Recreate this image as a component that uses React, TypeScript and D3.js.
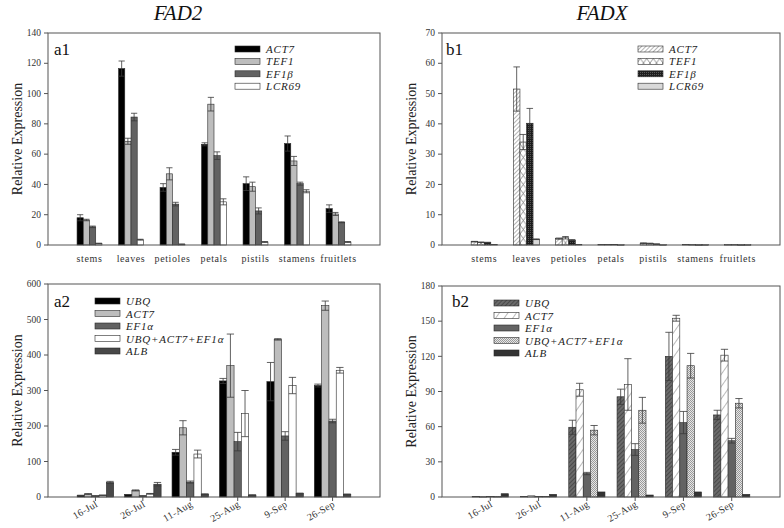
import React from "react";
import * as d3 from "d3";

// ---------- Data ----------
const tissues = ["stems", "leaves", "petioles", "petals", "pistils", "stamens", "fruitlets"];
const dates = ["16-Jul", "26-Jul", "11-Aug", "25-Aug", "9-Sep", "26-Sep"];

const a1Series = ["ACT7", "TEF1", "EF1β", "LCR69"];
const a1Values = [
  [18, 116.5, 38, 66.5, 40.5, 67, 24],
  [16.5, 68.5, 47, 93, 38.5, 55.5, 20.5],
  [12, 84.5, 27, 59, 22.5, 40.5, 15],
  [1, 3.5, 0.5, 28.5, 2, 35.5, 2],
];
const a1Errors = [
  [2, 5, 2.5, 1, 4.5, 5, 2.5],
  [0.5, 2, 4, 4.5, 3, 3, 1],
  [0.5, 2.5, 1.2, 2.5, 2, 1, 0.3],
  [0.2, 0.3, 0.2, 2, 0.3, 1, 0.3],
];

const b1Series = ["ACT7", "TEF1", "EF1β", "LCR69"];
const b1Values = [
  [1.1, 51.5, 2.1, 0.2, 0.6, 0.2, 0.15],
  [0.9, 34, 2.4, 0.2, 0.5, 0.15, 0.15],
  [0.8, 40.2, 1.6, 0.2, 0.3, 0.1, 0.1],
  [0.2, 1.9, 0.2, 0.1, 0.1, 0.1, 0.1],
];
const b1Errors = [
  [0.1, 7.3, 0.2, 0, 0.1, 0, 0],
  [0.1, 2.5, 0.4, 0, 0.1, 0, 0],
  [0.1, 4.9, 0.2, 0, 0.05, 0, 0],
  [0, 0.1, 0, 0, 0, 0, 0],
];

const a2Series = ["UBQ", "ACT7", "EF1α", "UBQ+ACT7+EF1α", "ALB"];
const a2Values = [
  [4.5, 6.5, 126, 327, 325, 314],
  [8.5, 18.5, 195, 370, 444, 539],
  [3, 3, 42, 156, 172, 214],
  [5, 9, 121, 235, 314, 357],
  [41, 36, 8, 5.5, 10, 7.5],
];
const a2Errors = [
  [0.5, 0.5, 8, 7, 54, 4],
  [1, 1.5, 20, 89, 2, 13],
  [0.5, 0.5, 3, 26, 12, 5],
  [0.5, 1, 11, 65, 23, 8],
  [3, 5, 1, 0.5, 1, 1],
];

const b2Series = ["UBQ", "ACT7", "EF1α", "UBQ+ACT7+EF1α", "ALB"];
const b2Values = [
  [0.5, 0.5, 59.5, 85.5, 120, 70],
  [0.3, 1, 91.5, 96, 152.5, 121],
  [0.5, 0.5, 20, 40.5, 63.5, 48],
  [0.4, 0.5, 57, 74, 112, 80],
  [2.8, 2.3, 4.3, 1.7, 4.3, 2.3],
];
const b2Errors = [
  [0, 0, 6, 6.5, 20.5, 4],
  [0, 0, 5.5, 22, 2.5, 5],
  [0, 0, 1, 5, 9.5, 2],
  [0, 0, 4, 11, 10.5, 4],
  [0, 0, 0, 0, 0, 0],
];

const a1Ticks = [0, 20, 40, 60, 80, 100, 120, 140];
const b1Ticks = [0, 10, 20, 30, 40, 50, 60, 70];
const a2Ticks = [0, 100, 200, 300, 400, 500, 600];
const b2Ticks = [0, 30, 60, 90, 120, 150, 180];

// ---------- Styles ----------
const SERIF = "'Times New Roman', 'Liberation Serif', Times, serif";
const a1Fills = ["#000000", "#bdbdbd", "#626262", "#ffffff"];
const b1Fills = ["url(#pHatchFine)", "url(#pCross)", "url(#pDarkGrid)", "#d9d9d9"];
const a2Fills = ["#000000", "#bdbdbd", "#626262", "#ffffff", "#484848"];
const b2Fills = ["url(#pDarkHatch)", "url(#pSparseHatch)", "#636363", "url(#pChecker)", "#333333"];

type PanelProps = {
  x0: number; x1: number; y0: number; y1: number;
  cats: string[]; series: string[]; values: number[][]; errors: number[][];
  ticks: number[]; fills: string[]; frac: number; label: string;
  labelPos: [number, number];
  legendX: number; legendY: number; legendStep: number;
  rotated: boolean;
};

function Panel(p: PanelProps) {
  const ymax = p.ticks[p.ticks.length - 1];
  const y = d3.scaleLinear().domain([0, ymax]).range([p.y1, p.y0]);
  const x = d3.scaleLinear().domain([0, p.cats.length + 1]).range([p.x0, p.x1]);
  const slot = (p.x1 - p.x0) / (p.cats.length + 1);
  const n = p.series.length;
  const bw = (slot * p.frac) / n;
  const axisColor = "#555";
  return (
    <g>
      {p.series.map((s, si) =>
        p.cats.map((c, ci) => {
          const v = p.values[si][ci];
          const e = p.errors[si][ci];
          const bx = x(ci + 1) - (bw * n) / 2 + si * bw;
          const cx = bx + bw / 2;
          return (
            <g key={s + c}>
              <rect x={bx} y={y(v)} width={bw} height={Math.max(0.6, p.y1 - y(v))}
                fill={p.fills[si]} stroke="#2a2a2a" strokeWidth={0.6} />
              {e > 0 && (
                <g stroke="#3a3a3a" strokeWidth={0.8}>
                  <line x1={cx} x2={cx} y1={y(v + e)} y2={y(Math.max(0, v - e))} />
                  <line x1={bx} x2={bx + bw} y1={y(v + e)} y2={y(v + e)} />
                  {v - e > 0 && <line x1={bx} x2={bx + bw} y1={y(v - e)} y2={y(v - e)} />}
                </g>
              )}
            </g>
          );
        })
      )}
      <rect x={p.x0} y={p.y0} width={p.x1 - p.x0} height={p.y1 - p.y0} fill="none" stroke={axisColor} strokeWidth={1} />
      {p.ticks.map((t) => (
        <g key={t}>
          <line x1={p.x0 - 4} x2={p.x0} y1={y(t)} y2={y(t)} stroke={axisColor} />
          <text x={p.x0 - 7} y={y(t) + 3.2} textAnchor="end" fontSize={9.5} fill="#333" fontFamily={SERIF}>{t}</text>
        </g>
      ))}
      {p.cats.map((c, ci) =>
        p.rotated ? (
          <g key={c}>
            <line x1={x(ci + 1)} x2={x(ci + 1)} y1={p.y1} y2={p.y1 + 4} stroke={axisColor} />
            <text transform={`translate(${x(ci + 1) + 3},${p.y1 + 9}) rotate(-30)`} textAnchor="end"
              fontSize={10} fill="#333" fontFamily={SERIF} letterSpacing={0.3}>{c}</text>
          </g>
        ) : (
          <text key={c} x={x(ci + 1)} y={p.y1 + 17} textAnchor="middle" fontSize={10} fill="#333"
            fontFamily={SERIF} letterSpacing={0.6}>{c}</text>
        )
      )}
      <text transform={`translate(${p.x0 - 26},${(p.y0 + p.y1) / 2}) rotate(-90)`} textAnchor="middle"
        fontSize={14} fill="#222" fontFamily={SERIF}>Relative Expression</text>
      <text x={p.labelPos[0]} y={p.labelPos[1]} fontSize={17} fill="#111" fontFamily={SERIF}>{p.label}</text>
      {p.series.map((s, si) => (
        <g key={s}>
          <rect x={p.legendX} y={p.legendY + si * p.legendStep - 3} width={25} height={6}
            fill={p.fills[si]} stroke="#2a2a2a" strokeWidth={0.6} />
          <text x={p.legendX + 31} y={p.legendY + si * p.legendStep + 4} fontSize={11} fontStyle="italic"
            fill="#222" fontFamily={SERIF} letterSpacing={0.8}>{s}</text>
        </g>
      ))}
    </g>
  );
}

export default function App() {
  return (
    <svg width={784} height={528} style={{ position: "absolute", left: 0, top: 0, background: "#fff" }}>
      <defs>
        <pattern id="pHatchFine" patternUnits="userSpaceOnUse" width={3} height={3} patternTransform="rotate(45)">
          <rect width={3} height={3} fill="#fff" />
          <line x1={0} y1={0} x2={0} y2={3} stroke="#777" strokeWidth={1.1} />
        </pattern>
        <pattern id="pCross" patternUnits="userSpaceOnUse" width={6.5} height={9}>
          <rect width={6.5} height={9} fill="#fff" />
          <line x1={0} y1={0} x2={6.5} y2={9} stroke="#666" strokeWidth={0.7} />
          <line x1={6.5} y1={0} x2={0} y2={9} stroke="#666" strokeWidth={0.7} />
        </pattern>
        <pattern id="pDarkGrid" patternUnits="userSpaceOnUse" width={2} height={2}>
          <rect width={2} height={2} fill="#1c1c1c" />
          <rect width={1} height={1} fill="#555" />
        </pattern>
        <pattern id="pDarkHatch" patternUnits="userSpaceOnUse" width={3} height={3} patternTransform="rotate(45)">
          <rect width={3} height={3} fill="#6a6a6a" />
          <line x1={0} y1={0} x2={0} y2={3} stroke="#2e2e2e" strokeWidth={1.1} />
        </pattern>
        <pattern id="pSparseHatch" patternUnits="userSpaceOnUse" width={7} height={7} patternTransform="rotate(35)">
          <rect width={7} height={7} fill="#fff" />
          <line x1={0} y1={0} x2={0} y2={7} stroke="#555" strokeWidth={0.8} />
        </pattern>
        <pattern id="pChecker" patternUnits="userSpaceOnUse" width={2} height={2}>
          <rect width={2} height={2} fill="#e6e6e6" />
          <rect width={1} height={1} fill="#9a9a9a" />
          <rect x={1} y={1} width={1} height={1} fill="#9a9a9a" />
        </pattern>
      </defs>

      <text x={178} y={20} textAnchor="middle" fontSize={21} fontStyle="italic" fill="#111" fontFamily={SERIF}>FAD2</text>
      <text x={602} y={20} textAnchor="middle" fontSize={21} fontStyle="italic" fill="#111" fontFamily={SERIF}>FADX</text>

      <Panel x0={48} x1={380} y0={33} y1={245} cats={tissues} series={a1Series} values={a1Values}
        errors={a1Errors} ticks={a1Ticks} fills={a1Fills} frac={0.6} label="a1" labelPos={[54, 55]}
        legendX={235} legendY={49} legendStep={12.4} rotated={false} />
      <Panel x0={442} x1={780} y0={33} y1={245} cats={tissues} series={b1Series} values={b1Values}
        errors={b1Errors} ticks={b1Ticks} fills={b1Fills} frac={0.62} label="b1" labelPos={[446, 55]}
        legendX={638} legendY={49} legendStep={12.4} rotated={false} />
      <Panel x0={48} x1={380} y0={284} y1={497} cats={dates} series={a2Series} values={a2Values}
        errors={a2Errors} ticks={a2Ticks} fills={a2Fills} frac={0.77} label="a2" labelPos={[54, 307]}
        legendX={95} legendY={301} legendStep={12.5} rotated={true} />
      <Panel x0={442} x1={780} y0={286} y1={497} cats={dates} series={b2Series} values={b2Values}
        errors={b2Errors} ticks={b2Ticks} fills={b2Fills} frac={0.75} label="b2" labelPos={[452, 307]}
        legendX={494} legendY={303} legendStep={12.5} rotated={true} />
    </svg>
  );
}
